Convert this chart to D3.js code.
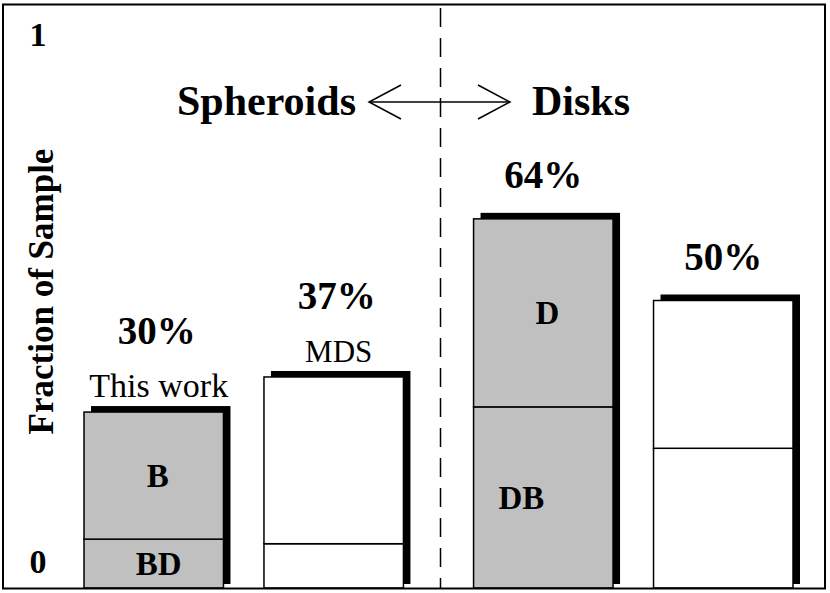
<!DOCTYPE html>
<html>
<head>
<meta charset="utf-8">
<script src="https://cdn.jsdelivr.net/npm/d3@7"></script>
<style>
  html, body { margin: 0; padding: 0; background: #fff; }
  svg { display: block; }
  text { font-family: "Liberation Serif", "Times New Roman", serif; fill: #000; }
</style>
</head>
<body>
<svg id="chart" width="830" height="593"></svg>
<script>
// ---- data ----
const groups = ["Spheroids", "Disks"];
const categories = ["This work", "MDS", "Disk sample A", "Disk sample B"];
const categoryGroup = ["Spheroids", "Spheroids", "Disks", "Disks"];
const bottomValues = [0.085, 0.077, 0.315, 0.243];
const topValues = [0.221, 0.290, 0.327, 0.257];
const percentLabels = ["30%", "37%", "64%", "50%"];
const sampleLabels = ["This work", "MDS", "", ""];
const bottomSegLabels = ["BD", "", "DB", ""];
const topSegLabels = ["B", "", "D", ""];
const barShaded = [true, false, true, false];
const yTickValues = [0, 1];
const yTickLabels = ["0", "1"];

// ---- layout ----
const baseY = 588, topY = 13;
const svg = d3.select("#chart");

const y = d3.scaleLinear().domain([0, 1]).range([baseY, topY]);
const outer = d3.scaleBand().domain(groups).range([84, 793]).paddingInner(0.18).paddingOuter(0);
const inner = d3.scaleBand().domain([0, 1]).range([0, outer.bandwidth()]).paddingInner(0.225).paddingOuter(0);

const bars = categories.map((c, i) => {
  const g = categoryGroup[i];
  const idxInGroup = categoryGroup.slice(0, i).filter(x => x === g).length;
  const x0 = outer(g) + inner(idxInGroup);
  return {
    cat: c, x0, w: inner.bandwidth(),
    b: bottomValues[i], t: topValues[i], total: bottomValues[i] + topValues[i],
    pct: percentLabels[i], sample: sampleLabels[i],
    segB: bottomSegLabels[i], segT: topSegLabels[i], shaded: barShaded[i]
  };
});

// dashed separator between groups
const sepX = outer("Disks") - outer.step() * outer.paddingInner() / 2 + 2;
svg.append("line")
  .attr("x1", sepX).attr("x2", sepX)
  .attr("y1", 8).attr("y2", baseY)
  .attr("stroke", "#000").attr("stroke-width", 1.5)
  .attr("stroke-dasharray", "19,11");

// bars
const bg = svg.append("g");
bars.forEach(d => {
  const fill = d.shaded ? "#c0c0c0" : "#fff";
  const yTop = y(d.total);
  const h = baseY - yTop;
  // shadow
  bg.append("rect")
    .attr("x", d.x0 + 7).attr("y", yTop - 6)
    .attr("width", d.w).attr("height", h + 2)
    .attr("fill", "#000");
  // bottom segment
  bg.append("rect")
    .attr("x", d.x0).attr("y", y(d.b))
    .attr("width", d.w).attr("height", baseY - y(d.b))
    .attr("fill", fill).attr("stroke", "#000").attr("stroke-width", 1.5);
  // top segment
  bg.append("rect")
    .attr("x", d.x0).attr("y", yTop)
    .attr("width", d.w).attr("height", y(d.b) - yTop)
    .attr("fill", fill).attr("stroke", "#000").attr("stroke-width", 1.5);

  const cx = d.x0 + d.w / 2;
  if (d.segT) {
    bg.append("text")
      .attr("x", cx + 4).attr("y", (yTop + y(d.b)) / 2)
      .attr("dy", "0.35em").attr("text-anchor", "middle")
      .attr("font-weight", "bold").attr("font-size", 33)
      .text(d.segT);
  }
  if (d.segB) {
    bg.append("text")
      .attr("x", d.segB === "DB" ? cx - 22 : cx + 5).attr("y", (y(d.b) + baseY) / 2)
      .attr("dy", "0.35em").attr("text-anchor", "middle")
      .attr("font-weight", "bold").attr("font-size", 33)
      .text(d.segB);
  }
  // labels above
  if (d.sample) {
    bg.append("text")
      .attr("x", cx + 5).attr("y", yTop - 15)
      .attr("text-anchor", "middle").attr("font-size", d.sample === "MDS" ? 31 : 34)
      .text(d.sample);
    bg.append("text")
      .attr("x", cx + 3).attr("y", yTop - 68)
      .attr("text-anchor", "middle").attr("font-weight", "bold").attr("font-size", 39)
      .text(d.pct);
  } else {
    bg.append("text")
      .attr("x", cx).attr("y", yTop - 31)
      .attr("text-anchor", "middle").attr("font-weight", "bold").attr("font-size", 39)
      .text(d.pct);
  }
});

// y tick labels
yTickValues.forEach((v, i) => {
  svg.append("text")
    .attr("x", 38).attr("y", v === 1 ? y(v) + 33 : y(v) - 15)
    .attr("text-anchor", "middle").attr("font-weight", "bold").attr("font-size", 34)
    .text(yTickLabels[i]);
});

// y axis title
svg.append("text")
  .attr("transform", `translate(53,${(150 + 433) / 2}) rotate(-90)`)
  .attr("text-anchor", "middle").attr("font-weight", "bold").attr("font-size", 35)
  .text("Fraction of Sample");

// group titles with double arrow
svg.append("text").attr("x", 177).attr("y", 115)
  .attr("font-weight", "bold").attr("font-size", 42).text("Spheroids");
svg.append("text").attr("x", 532).attr("y", 115)
  .attr("font-weight", "bold").attr("font-size", 42).text("Disks");
const arrow = svg.append("g").attr("stroke", "#000").attr("stroke-width", 1.5).attr("fill", "none");
arrow.append("line").attr("x1", 369).attr("x2", 510).attr("y1", 102).attr("y2", 102);
arrow.append("polyline").attr("points", "401,85 369,102 401,119");
arrow.append("polyline").attr("points", "478,85 510,102 478,119");

// frame
svg.append("rect")
  .attr("x", 3).attr("y", 4.5).attr("width", 822).attr("height", 584)
  .attr("fill", "none").attr("stroke", "#000").attr("stroke-width", 2);
</script>
</body>
</html>
